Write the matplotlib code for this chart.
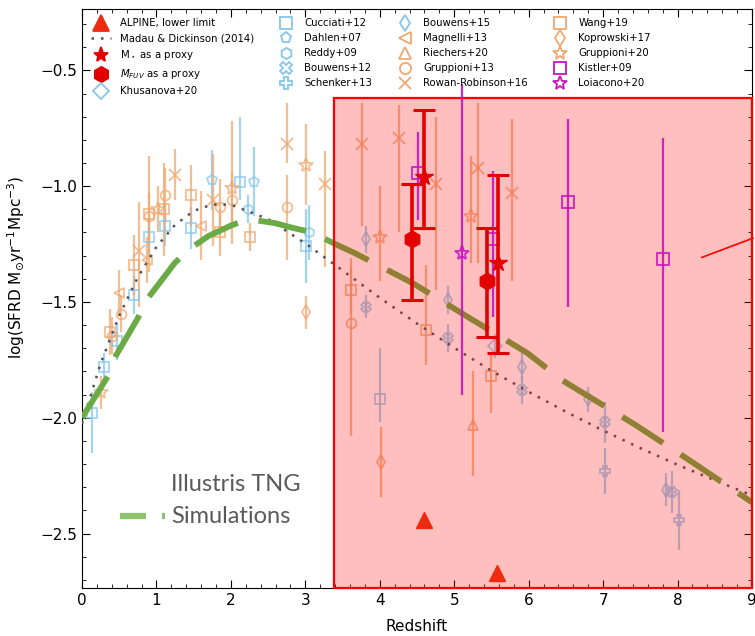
import matplotlib.pyplot as plt
from matplotlib.lines import Line2D
from matplotlib.patches import Rectangle
from matplotlib.ticker import MultipleLocator

# ---- ALPINE measurements ----
mstar_z = [4.59, 5.59]
mstar_y = [-0.96, -1.33]
mstar_lo = [0.22, 0.39]
mstar_hi = [0.29, 0.38]

mfuv_z = [4.43, 5.44]
mfuv_y = [-1.23, -1.41]
mfuv_lo = [0.26, 0.24]
mfuv_hi = [0.24, 0.23]

limit_z = [4.59, 5.58]
limit_y = [-2.44, -2.67]

# ---- Madau & Dickinson (2014), Chabrier IMF ----
md_z = [0.0, 0.25, 0.5, 0.75, 1.0, 1.25, 1.5, 1.75, 2.0, 2.5, 3.0, 3.5, 4.0,
        4.5, 5.0, 5.5, 6.0, 6.5, 7.0, 7.5, 8.0, 8.5, 9.0]
md_y = [-2.025, -1.766, -1.559, -1.393, -1.262, -1.167, -1.107, -1.079, -1.080,
        -1.142, -1.247, -1.364, -1.482, -1.593, -1.698, -1.797, -1.888, -1.974,
        -2.055, -2.131, -2.203, -2.270, -2.335]

# ---- Illustris TNG ----
tng_z = [0.0, 0.35, 0.44, 0.75, 0.87, 1.25, 1.45, 1.7, 2.0, 2.15, 2.35, 2.6,
         2.83, 3.1, 3.37, 3.67, 4.45, 5.21, 5.98, 6.46, 7.43, 8.19, 8.93, 9.0]
tng_y = [-2.0, -1.82, -1.74, -1.57, -1.49, -1.33, -1.27, -1.215, -1.17, -1.152,
         -1.148, -1.16, -1.18, -1.20, -1.245, -1.29, -1.42, -1.57, -1.72, -1.84,
         -2.03, -2.19, -2.35, -2.365]

# ---- UV-based literature ----
cucciati_z = [0.13, 0.30, 0.47, 0.70, 0.90, 1.11, 1.47, 2.12, 3.01, 4.00]
cucciati_y = [-1.98, -1.78, -1.67, -1.47, -1.22, -1.17, -1.18, -0.98, -1.26, -1.92]
cucciati_lo = [0.17, 0.06, 0.08, 0.08, 0.08, 0.09, 0.09, 0.08, 0.16, 0.10]
cucciati_hi = [0.09, 0.06, 0.08, 0.08, 0.08, 0.09, 0.09, 0.28, 0.16, 0.22]

dahlen_z = [1.75, 2.31]
dahlen_y = [-0.975, -0.98]
dahlen_err = [0.13, 0.15]

reddy_z = [2.23, 3.05]
reddy_y = [-1.10, -1.20]
reddy_err = [0.06, 0.12]

bouwens12_z = [3.81, 4.91, 5.91, 7.02, 7.92]
bouwens12_y = [-1.52, -1.655, -1.88, -2.02, -2.32]
bouwens12_err = [0.05, 0.06, 0.06, 0.09, 0.09]

schenker_z = [7.03, 8.02]
schenker_y = [-2.23, -2.44]
schenker_err = [0.10, 0.13]

bouwens15_z = [3.81, 4.91, 5.91, 6.80, 7.85]
bouwens15_y = [-1.23, -1.49, -1.78, -1.92, -2.31]
bouwens15_err = [0.06, 0.06, 0.06, 0.055, 0.07]

khusanova_z = [5.55]
khusanova_y = [-1.69]
khusanova_err = [0.05]

# ---- IR / radio-based literature ----
magnelli_z = [0.50, 0.87, 1.60]
magnelli_y = [-1.46, -1.32, -1.17]
magnelli_err = [0.10, 0.10, 0.15]

riechers_z = [5.25]
riechers_y = [-2.03]
riechers_lo = [0.22]
riechers_hi = [0.23]

gruppioni13_z = [0.40, 0.53, 0.90, 1.12, 1.85, 2.01, 2.76, 3.61]
gruppioni13_y = [-1.645, -1.55, -1.13, -1.04, -1.09, -1.06, -1.09, -1.59]
gruppioni13_lo = [0.08, 0.08, 0.10, 0.12, 0.12, 0.12, 0.23, 0.49]
gruppioni13_hi = [0.08, 0.08, 0.10, 0.12, 0.12, 0.12, 0.14, 0.28]

rowan_z = [0.76, 1.25, 1.76, 2.76, 3.26, 3.76, 4.26, 4.76, 5.32, 5.77]
rowan_y = [-1.28, -0.95, -1.06, -0.82, -0.99, -0.82, -0.79, -0.99, -0.92, -1.03]
rowan_lo = [0.24, 0.11, 0.20, 0.08, 0.36, 0.35, 0.41, 0.46, 0.41, 0.38]
rowan_hi = [0.21, 0.11, 0.20, 0.18, 0.14, 0.18, 0.14, 0.29, 0.28, 0.32]

wang_z = [0.37, 0.70, 0.895, 1.10, 1.46, 1.85, 2.26, 3.61, 4.62, 5.50]
wang_y = [-1.63, -1.34, -1.12, -1.10, -1.04, -1.20, -1.22, -1.45, -1.62, -1.82]
wang_lo = [0.10, 0.13, 0.25, 0.20, 0.13, 0.10, 0.06, 0.10, 0.15, 0.16]
wang_hi = [0.10, 0.13, 0.25, 0.20, 0.13, 0.10, 0.06, 0.10, 0.28, 0.10]

koprowski_z = [3.01, 4.01]
koprowski_y = [-1.545, -2.19]
koprowski_err = [0.07, 0.15]

gruppioni20_z = [0.25, 1.02, 2.02, 3.01, 4.00, 5.22]
gruppioni20_y = [-1.89, -1.10, -1.01, -0.91, -1.22, -1.13]
gruppioni20_lo = [0.07, 0.10, 0.24, 0.17, 0.19, 0.20]
gruppioni20_hi = [0.07, 0.10, 0.29, 0.18, 0.22, 0.26]

# ---- GRB-based ----
kistler_z = [4.51, 5.52, 6.53, 7.80]
kistler_y = [-0.945, -1.226, -1.07, -1.313]
kistler_lo = [0.20, 0.34, 0.45, 0.75]
kistler_hi = [0.18, 0.29, 0.36, 0.52]

loiacono_z = [5.11]
loiacono_y = [-1.29]
loiacono_lo = [0.61]
loiacono_hi = [0.73]

BLUE = '#86c6ea'
ORANGE = '#f0a870'
MAG = '#cc11c0'
YLIM = (-2.735, -0.235)


def lit(ax, z, y, err, marker, color, ms=7, alpha=0.75, zorder=2):
    ax.errorbar(z, y, yerr=err, fmt=marker, color=color, mfc='none', ms=ms,
                mew=1.3, elinewidth=1.6, capsize=0, alpha=alpha, zorder=zorder)


fig = plt.figure(figsize=(7.55, 6.36), dpi=100)
ax = fig.add_axes([82 / 755, 48 / 636, 670 / 755, 579 / 636])

lit(ax, cucciati_z, cucciati_y, [cucciati_lo, cucciati_hi], 's', BLUE)
lit(ax, dahlen_z, dahlen_y, dahlen_err, 'p', BLUE)
lit(ax, reddy_z, reddy_y, reddy_err, 'h', BLUE)
lit(ax, bouwens12_z, bouwens12_y, bouwens12_err, 'X', BLUE)
lit(ax, schenker_z, schenker_y, schenker_err, 'P', BLUE)
lit(ax, bouwens15_z, bouwens15_y, bouwens15_err, 'd', BLUE)
lit(ax, khusanova_z, khusanova_y, khusanova_err, 'D', BLUE)

lit(ax, magnelli_z, magnelli_y, magnelli_err, '<', ORANGE)
lit(ax, riechers_z, riechers_y, [riechers_lo, riechers_hi], '^', ORANGE)
lit(ax, gruppioni13_z, gruppioni13_y, [gruppioni13_lo, gruppioni13_hi], 'o', ORANGE)
lit(ax, rowan_z, rowan_y, [rowan_lo, rowan_hi], 'x', ORANGE, ms=9)
lit(ax, wang_z, wang_y, [wang_lo, wang_hi], 's', ORANGE)
lit(ax, koprowski_z, koprowski_y, koprowski_err, 'd', ORANGE)
lit(ax, gruppioni20_z, gruppioni20_y, [gruppioni20_lo, gruppioni20_hi], '*', ORANGE, ms=10)

ax.plot(md_z, md_y, color='#55525e', ls=(0, (1, 2.8)), lw=1.8, zorder=3)
ax.plot(tng_z, tng_y, color='#6aab46', lw=4.2, ls=(0, (8.3, 3.6)), zorder=3)

# shaded high-z window covered by ALPINE
ax.add_patch(Rectangle((3.385, YLIM[0]), 9 - 3.385, -0.621 - YLIM[0],
                       facecolor=(1, 0, 0, 0.25), edgecolor='red', lw=1.6,
                       zorder=4, clip_on=False))

lit(ax, kistler_z, kistler_y, [kistler_lo, kistler_hi], 's', MAG, ms=8, alpha=0.9, zorder=5)
lit(ax, loiacono_z, loiacono_y, [loiacono_lo, loiacono_hi], '*', MAG, ms=11, alpha=0.9, zorder=5)

ax.errorbar(mstar_z, mstar_y, yerr=[mstar_lo, mstar_hi], fmt='*', color='#e30000',
            ms=13, elinewidth=2.6, capsize=8, capthick=2.2, zorder=6)
ax.errorbar(mfuv_z, mfuv_y, yerr=[mfuv_lo, mfuv_hi], fmt='h', color='#e30000',
            ms=12, elinewidth=2.6, capsize=8, capthick=2.2, zorder=6)
ax.plot(limit_z, limit_y, '^', color='#ee2a10', ms=11, ls='none', zorder=6)

ax.annotate('', xy=(8.29, -1.312), xytext=(9.05, -1.22),
            arrowprops=dict(arrowstyle='-', color='red', lw=1.2),
            annotation_clip=False, zorder=7)

# simulation label
ax.plot([0.057, 0.095], [0.124, 0.124], transform=ax.transAxes, color='#8cc46c',
        lw=4.5, solid_capstyle='butt', clip_on=False, zorder=7)
ax.plot([0.120, 0.124], [0.124, 0.124], transform=ax.transAxes, color='#8cc46c',
        lw=4.5, solid_capstyle='butt', clip_on=False, zorder=7)
ax.text(0.133, 0.178, 'Illustris TNG', transform=ax.transAxes, fontsize=17,
        family='Lato', color='#5a5a5a', va='center', zorder=7)
ax.text(0.133, 0.124, 'Simulations', transform=ax.transAxes, fontsize=17,
        family='Lato', color='#5a5a5a', va='center', zorder=7)

ax.set_xlim(0, 9)
ax.set_ylim(*YLIM)
ax.xaxis.set_major_locator(MultipleLocator(1))
ax.xaxis.set_minor_locator(MultipleLocator(0.2))
ax.yaxis.set_major_locator(MultipleLocator(0.5))
ax.yaxis.set_minor_locator(MultipleLocator(0.1))
ax.tick_params(which='both', direction='in', top=True, right=True, labelsize=11)
ax.tick_params(which='major', length=6)
ax.tick_params(which='minor', length=3)
ax.set_xlabel('Redshift', fontsize=11, labelpad=8)
ax.set_ylabel(r'log(SFRD M$_{\odot}$yr$^{-1}$Mpc$^{-3}$)', fontsize=11)
ax.yaxis.set_label_coords(-0.082, 0.553)

# legend built from marker-only proxies
entries = [
    ('^', '#ee2a10', True, 'ALPINE, lower limit'),
    (None, '#55525e', True, 'Madau & Dickinson (2014)'),
    ('*', '#e30000', True, r'M$_\star$ as a proxy'),
    ('h', '#e30000', True, r'$M_{FUV}$ as a proxy'),
    ('D', BLUE, False, 'Khusanova+20'),
    ('s', BLUE, False, 'Cucciati+12'),
    ('p', BLUE, False, 'Dahlen+07'),
    ('h', BLUE, False, 'Reddy+09'),
    ('X', BLUE, False, 'Bouwens+12'),
    ('P', BLUE, False, 'Schenker+13'),
    ('d', BLUE, False, 'Bouwens+15'),
    ('<', ORANGE, False, 'Magnelli+13'),
    ('^', ORANGE, False, 'Riechers+20'),
    ('o', ORANGE, False, 'Gruppioni+13'),
    ('x', ORANGE, False, 'Rowan-Robinson+16'),
    ('s', ORANGE, False, 'Wang+19'),
    ('d', ORANGE, False, 'Koprowski+17'),
    ('*', ORANGE, False, 'Gruppioni+20'),
    ('s', MAG, False, 'Kistler+09'),
    ('*', MAG, False, 'Loiacono+20'),
]
handles = []
for m, c, filled, lab in entries:
    if m is None:
        handles.append(Line2D([], [], color=c, ls=(0, (1, 2.8)), lw=1.8, label=lab))
    else:
        size = 11 if filled else (10 if m == '*' else 8)
        handles.append(Line2D([], [], marker=m, ls='none', color=c, ms=size,
                              mfc=c if filled else 'none', mew=1.3, label=lab))
ax.legend(handles=handles, ncol=4, loc='upper left', frameon=False, fontsize=7.3,
          numpoints=1, handlelength=2.0, columnspacing=2.2, borderaxespad=0.5)

fig.savefig('out.png', dpi=100)
